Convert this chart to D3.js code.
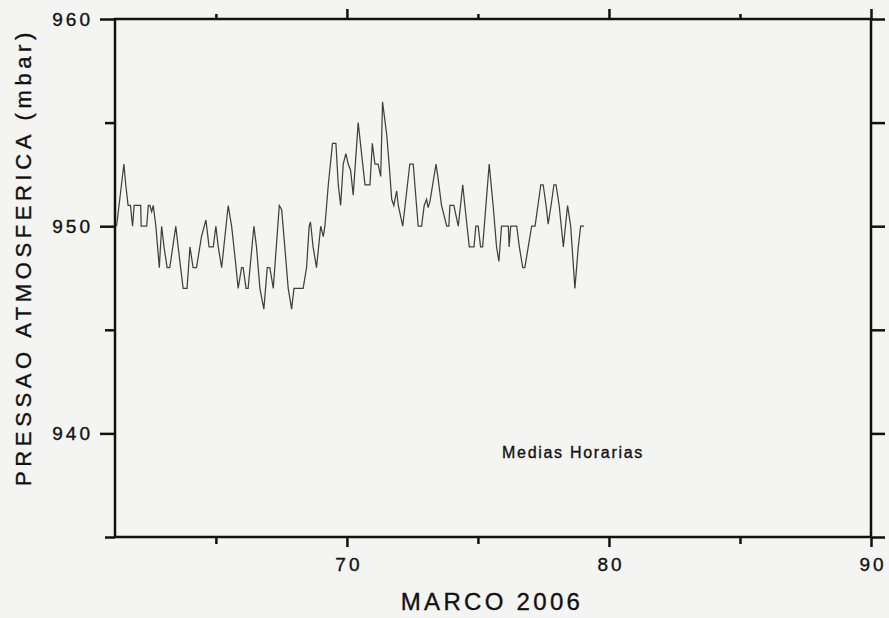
<!DOCTYPE html>
<html lang="pt">
<head>
<meta charset="UTF-8">
<title>Pressao atmosferica - Marco 2006</title>
<script src="https://d3js.org/d3.v7.min.js"></script>
<style>
    html, body { margin: 0; padding: 0; background: #f4f4f2; }
    body { font-family: "Liberation Sans", Arial, sans-serif; }
    text { stroke: #111; stroke-width: 0.35px; }
    .axis text { font-family: "Liberation Sans", Arial, sans-serif; font-size: 19px; fill: #111; letter-spacing: 3px; }
    .axis line { stroke: #111; stroke-width: 2.5; }
    .axis path { display: none; }
    .series { fill: none; stroke: #404040; stroke-width: 1.25; }
</style>
</head>
<body>
<svg width="889" height="618"></svg>
<script>
// dia do ano (marco 2006) e pressao media horaria (mbar)
const days = [61.21, 61.49, 61.56, 61.65, 61.74, 61.82, 61.88, 62.13, 62.15, 62.36,
    62.42, 62.48, 62.55, 62.61, 62.71, 62.84, 62.93, 63.02, 63.14, 63.24,
    63.47, 63.56, 63.75, 63.90, 64.01, 64.13, 64.26, 64.45, 64.62, 64.74,
    64.90, 65.00, 65.09, 65.22, 65.47, 65.60, 65.73, 65.85, 65.98, 66.04,
    66.15, 66.23, 66.45, 66.55, 66.68, 66.83, 66.96, 67.06, 67.19, 67.42,
    67.51, 67.63, 67.76, 67.89, 67.98, 68.33, 68.46, 68.56, 68.61, 68.71,
    68.84, 69.00, 69.10, 69.16, 69.29, 69.45, 69.58, 69.67, 69.76, 69.86,
    69.96, 70.05, 70.14, 70.24, 70.43, 70.69, 70.88, 70.97, 71.07, 71.19,
    71.29, 71.36, 71.52, 71.61, 71.71, 71.79, 71.90, 71.96, 72.13, 72.40,
    72.53, 72.72, 72.85, 72.95, 73.04, 73.10, 73.17, 73.40, 73.48, 73.61,
    73.81, 73.89, 73.93, 74.08, 74.25, 74.42, 74.50, 74.67, 74.85, 74.92,
    75.01, 75.10, 75.18, 75.43, 75.58, 75.71, 75.80, 75.90, 76.16, 76.19,
    76.25, 76.48, 76.58, 76.71, 76.79, 76.92, 77.05, 77.18, 77.40, 77.49,
    77.60, 77.68, 77.79, 77.90, 77.98, 78.10, 78.26, 78.42, 78.54, 78.70,
    78.83, 78.92, 79.05];
const pressure = [950, 953, 952, 951, 951, 950, 951, 951, 950, 950,
    951, 951, 950.7, 951, 950, 948, 950, 949, 948, 948,
    950, 949, 947, 947, 949, 948, 948, 949.5, 950.3, 949,
    949, 950, 949, 948, 951, 950, 948.5, 947, 948, 948,
    947, 947, 950, 949, 947, 946, 948, 948, 947, 951,
    950.8, 949, 947, 946, 947, 947, 948, 950, 950.2, 949,
    948, 950, 949.5, 950, 952, 954, 954, 952, 951, 953,
    953.5, 953, 952.7, 951.5, 955, 952, 952, 954, 953, 953,
    952.4, 956, 954.4, 953, 951.3, 951, 951.7, 951, 950, 953,
    953, 950, 950, 951, 951.3, 950.9, 951.2, 953, 952.3, 951,
    950, 950, 951, 951, 950, 952, 951, 949, 949, 950,
    950, 949, 949, 953, 951, 949, 948.3, 950, 950, 949,
    950, 950, 949, 948, 948, 949, 950, 950, 952, 952,
    951, 950.1, 951, 952, 952, 951, 949, 951, 950, 947,
    949, 950, 950];

const xTicks = [65, 70, 75, 80, 85, 90];
const xTickLabels = ["", "70", "", "80", "", "90"];
const yTicks = [935, 940, 945, 950, 955, 960];
const yTickLabels = ["", "940", "", "950", "", "960"];

const margin = { top: 19, right: 18, bottom: 81, left: 115 };
const width = 889 - margin.left - margin.right;
const height = 618 - margin.top - margin.bottom;

const svg = d3.select("svg");
const g = svg.append("g")
    .attr("transform", `translate(${margin.left},${margin.top})`);

const x = d3.scaleLinear().domain([61.15, 90]).range([0, width]);
const y = d3.scaleLinear().domain([935, 960]).range([height, 0]);

const xLab = d => xTickLabels[xTicks.indexOf(d)];
const yLab = d => yTickLabels[yTicks.indexOf(d)];

// eixos: ticks para fora em todos os lados
const axisB = g.append("g").attr("class", "axis")
    .attr("transform", `translate(0,${height})`)
    .call(d3.axisBottom(x).tickValues(xTicks).tickFormat(xLab).tickSize(10).tickPadding(11));
axisB.selectAll(".tick line").attr("y2", d => xLab(d) ? 10 : 7);
axisB.selectAll(".tick text").attr("dx", "1.5px");

const axisT = g.append("g").attr("class", "axis")
    .call(d3.axisTop(x).tickValues(xTicks).tickFormat("").tickSize(10));
axisT.selectAll(".tick line").attr("y2", d => xLab(d) ? -10 : -5);

const axisL = g.append("g").attr("class", "axis")
    .call(d3.axisLeft(y).tickValues(yTicks).tickFormat(yLab).tickSize(15).tickPadding(7));
axisL.selectAll(".tick line").attr("x2", d => yLab(d) ? -15 : -10);

g.append("g").attr("class", "axis")
    .attr("transform", `translate(${width},0)`)
    .call(d3.axisRight(y).tickValues(yTicks).tickFormat("").tickSize(14));

g.append("rect")
    .attr("width", width).attr("height", height)
    .attr("fill", "none").attr("stroke", "#111").attr("stroke-width", 2.5);

const line = d3.line()
    .x((d, i) => x(days[i]))
    .y(d => y(d));

g.append("path")
    .datum(pressure)
    .attr("class", "series")
    .attr("d", line);

g.append("text")
    .attr("x", x(75.92)).attr("y", y(940) + 25)
    .style("font-size", "16px").style("letter-spacing", "1.7px").attr("fill", "#111")
    .text("Medias Horarias");

svg.append("text")
    .attr("x", 492).attr("y", 610)
    .attr("text-anchor", "middle")
    .style("font-size", "24px").style("letter-spacing", "3.3px").attr("fill", "#111")
    .text("MARCO 2006");

svg.append("text")
    .attr("transform", "translate(31,257) rotate(-90)")
    .attr("text-anchor", "middle")
    .style("font-size", "22px").style("letter-spacing", "4.6px").attr("fill", "#111")
    .text("PRESSAO ATMOSFERICA (mbar)");
</script>
</body>
</html>
